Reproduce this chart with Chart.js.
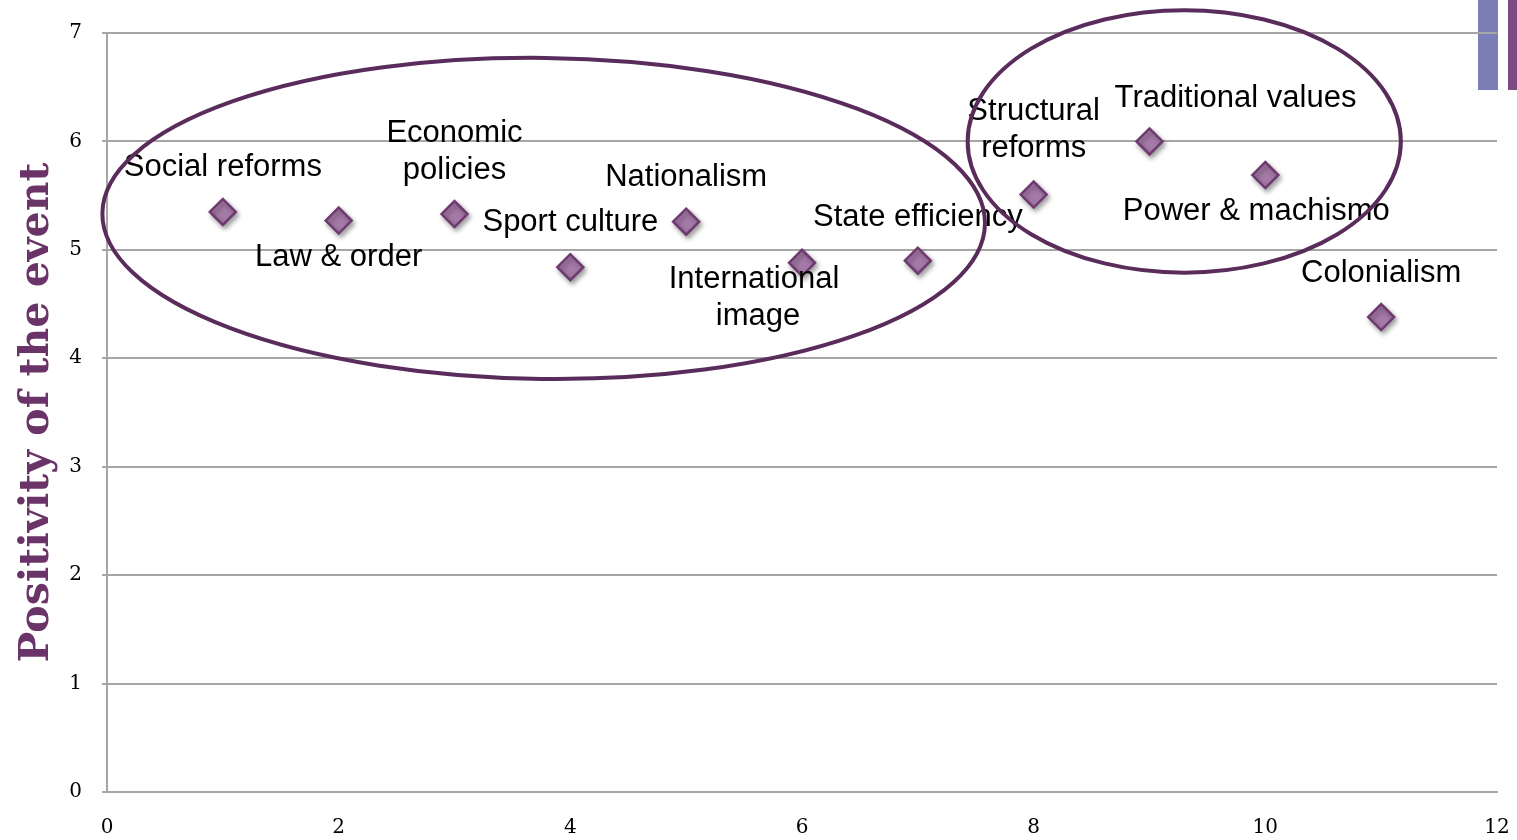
<!DOCTYPE html>
<html>
<head>
<meta charset="utf-8">
<script src="https://cdn.jsdelivr.net/npm/chart.js@4/dist/chart.umd.min.js"></script>
<style>
  html, body { margin: 0; padding: 0; background: #ffffff; }
  #wrap { width: 1517px; height: 840px; position: relative; }
</style>
</head>
<body>
<div id="wrap"><canvas id="c" width="1517" height="840"></canvas></div>
<script>
// ---- data ----
const categories = ["Social reforms", "Law & order", "Economic policies", "Sport culture", "Nationalism",
  "International image", "State efficiency", "Structural reforms", "Traditional values", "Power & machismo", "Colonialism"];
const xValues = [1, 2, 3, 4, 5, 6, 7, 8, 9, 10, 11];
const positivity = [5.35, 5.27, 5.33, 4.84, 5.26, 4.88, 4.90, 5.51, 6.0, 5.69, 4.38];
const labelLines = [["Social reforms"], ["Law & order"], ["Economic", "policies"], ["Sport culture"], ["Nationalism"],
  ["International", "image"], ["State efficiency"], ["Structural", "reforms"], ["Traditional values"], ["Power & machismo"], ["Colonialism"]];
const xTicks = [0, 2, 4, 6, 8, 10, 12];
const yTicks = [0, 1, 2, 3, 4, 5, 6, 7];
const yTitle = "Positivity of the event";
// cluster ellipses in data units: [centerX, centerY, radiusX, radiusY]
const cluster1 = [3.77, 5.29, 3.81, 1.48];
const cluster2 = [9.30, 6.00, 1.87, 1.21];

// ---- label placement (pixel offsets from the point: dx, dy of first line centre) ----
const labelOffsets = [[0, -44], [0, 37], [0, -81], [0, -45], [0, -44], [-48, 17], [0, -43], [0, -83], [86, -43], [-9, 36], [0, -44]];
const lineStep = 37;

const points = xValues.map((x, i) => ({ x: x, y: positivity[i] }));

const labelPlugin = {
  id: 'pointLabels',
  afterDatasetsDraw(chart) {
    const ctx = chart.ctx;
    const xs = chart.scales.x, ys = chart.scales.y;
    ctx.save();
    ctx.shadowColor = 'transparent';
    ctx.font = '31px "Liberation Sans", Arial, sans-serif';
    ctx.fillStyle = '#000000';
    ctx.textAlign = 'center';
    ctx.textBaseline = 'middle';
    points.forEach((p, i) => {
      const px = xs.getPixelForValue(p.x) + labelOffsets[i][0];
      const py = ys.getPixelForValue(p.y) + labelOffsets[i][1];
      labelLines[i].forEach((line, k) => {
        ctx.fillText(line, px + (i === 5 && k === 1 ? 4 : 0), py + k * lineStep);
      });
    });
    // ellipses
    ctx.strokeStyle = '#5a2c5c';
    ctx.lineWidth = 4;
    [[cluster1, 0.012], [cluster2, 0]].forEach(([e, rot]) => {
      const cx = xs.getPixelForValue(e[0]);
      const cy = ys.getPixelForValue(e[1]);
      const rx = Math.abs(xs.getPixelForValue(e[0] + e[2]) - cx);
      const ry = Math.abs(ys.getPixelForValue(e[1] + e[3]) - cy);
      ctx.beginPath();
      ctx.ellipse(cx, cy, rx, ry, rot, 0, Math.PI * 2);
      ctx.stroke();
    });
    ctx.restore();
  }
};

const decoPlugin = {
  id: 'deco',
  beforeDraw(chart) {
    const ctx = chart.ctx;
    ctx.save();
    ctx.fillStyle = '#ffffff';
    ctx.fillRect(0, 0, chart.width, chart.height);
    ctx.fillStyle = '#7b7fb6';
    ctx.fillRect(1478, 0, 20, 90);
    ctx.fillStyle = '#7f4a83';
    ctx.fillRect(1508, 0, 9, 90);
    ctx.restore();
  },
  beforeDatasetsDraw(chart) {
    const ctx = chart.ctx;
    ctx.save();
    ctx.shadowColor = 'rgba(0,0,0,0.35)';
    ctx.shadowBlur = 5;
    ctx.shadowOffsetX = 2;
    ctx.shadowOffsetY = 3;
  },
  afterDatasetsDraw(chart) {
    chart.ctx.restore();
  }
};

new Chart(document.getElementById('c'), {
  type: 'scatter',
  data: {
    datasets: [{
      label: 'Events',
      data: points,
      pointStyle: 'rectRot',
      pointRadius: 13,
      pointHoverRadius: 13,
      backgroundColor: '#a57aa8',
      borderColor: '#6e3a70',
      borderWidth: 2.5
    }]
  },
  options: {
    responsive: false,
    animation: false,
    events: [],
    layout: { autoPadding: false, padding: { left: 0, right: 20, top: 33, bottom: 0 } },
    plugins: { legend: { display: false }, tooltip: { enabled: false } },
    scales: {
      x: {
        type: 'linear', min: 0, max: 12,
        afterBuildTicks: (s) => { s.ticks = xTicks.map(v => ({ value: v })); },
        afterFit: (s) => { s.height = 48; s.paddingLeft = 0; s.paddingRight = 0; },
        grid: { display: false, drawTicks: false },
        border: { display: true, color: '#a6a6a6', width: 2 },
        ticks: { color: '#000', padding: 24, maxRotation: 0, font: { family: '"DejaVu Serif", serif', size: 20 } }
      },
      y: {
        type: 'linear', min: 0, max: 7,
        afterBuildTicks: (s) => { s.ticks = yTicks.map(v => ({ value: v })); },
        afterFit: (s) => { s.width = 107; s.paddingTop = 0; s.paddingBottom = 0; },
        grid: { color: '#a6a6a6', lineWidth: 2, tickLength: 5, drawTicks: true },
        border: { display: true, color: '#a6a6a6', width: 2 },
        ticks: { color: '#000', padding: 20, font: { family: '"DejaVu Serif", serif', size: 20 } },
        title: {
          display: true, text: yTitle, color: '#6a3468',
          font: { family: '"DejaVu Serif", serif', size: 41, weight: 'bold', lineHeight: 1 },
          padding: { top: 17, bottom: 0 }
        }
      }
    }
  },
  plugins: [decoPlugin, labelPlugin]
});
</script>
</body>
</html>
